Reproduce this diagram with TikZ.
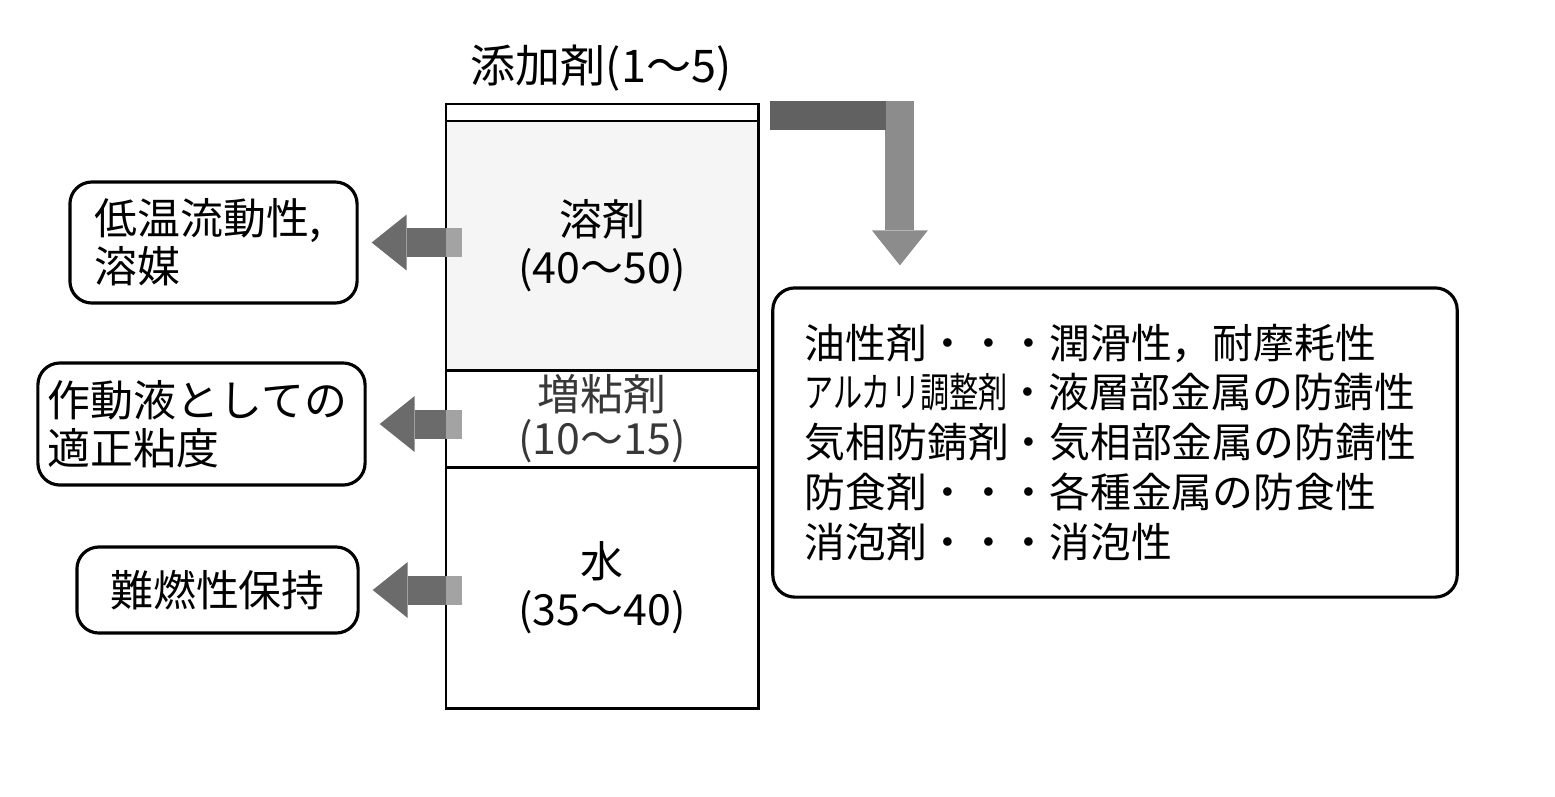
\documentclass[tikz,border=0pt]{standalone}
\usepackage{fontspec}
\setmainfont{Noto Sans CJK JP}
\usepackage{graphicx}
\usetikzlibrary{positioning, arrows.meta}
\newcommand\jpbig{\fontsize{12.2pt}{13.6pt}\selectfont}
\newcommand\jptight{\fontsize{12.2pt}{12.5pt}\selectfont\lineskiplimit=-20pt\lineskip=0pt}
\newcommand\jpsmall{\fontsize{11.6pt}{14.2pt}\selectfont}
\tikzset{
	section/.style={draw=black, line width=.8pt, minimum width=3.12cm, inner sep=0pt, outer sep=0pt, align=center, font=\jpbig},
	note/.style={draw=black, line width=.9pt, rounded corners=.22cm, inner xsep=.25cm, inner ysep=0pt, align=left, font=\jpbig},
	fatarrow/.style={line width=.29cm, draw=black!58, -{Triangle[length=.35cm, width=.56cm, line width=0pt]}, shorten >=.13cm},
	stub/.style={line width=.29cm, draw=black!36}
}

\begin{document}
\begin{tikzpicture}[x=0.01cm, y=-0.01cm]
\useasboundingbox (0,0) rectangle (1555,796);
% column of components
\node[section, minimum height=.17cm] (add) at (602,112.5) {};
\node[section, minimum height=2.49cm, fill=black!4] (solv) [below=0pt of add] {溶剤\\(40～50)};
\node[section, minimum height=.97cm, text=black!78, font=\jptight] (thick) [below=0pt of solv] {増粘剤\\(10～15)};
\node[section, minimum height=2.41cm] (water) [below=0pt of thick] {水\\(35～40)};
\node[font=\fontsize{12.8pt}{14pt}\selectfont] (addlabel) at (601,68) {添加剤(1～5)};

% what each part does
\node[note, text width=2.37cm, minimum height=1.21cm] (lowtemp) at (213.5,242.5) {低温流動性,\\溶媒};
\node[note, inner xsep=.1cm, text width=3.07cm, minimum height=1.22cm] (viscos) at (201.5,424) {作動液としての\\適正粘度};
\node[note, align=center, inner xsep=.2cm, text width=2.41cm, minimum height=.86cm] (flame) at (217.5,590) {難燃性保持};
\node[note, font=\jpsmall, inner xsep=.32cm, text width=6.2cm, minimum height=3.09cm] (effects) at (1115,442.5)
  {油性剤・・・潤滑性，耐摩耗性\\
   \scalebox{.714}[1]{アルカリ調整剤}・液層部金属の防錆性\\
   気相防錆剤・気相部金属の防錆性\\
   防食剤・・・各種金属の防食性\\
   消泡剤・・・消泡性};

% block arrows
\draw[fatarrow] ([xshift=.16cm]lowtemp.east -| solv.west) -- (lowtemp.east);
\draw[fatarrow] ([xshift=.16cm]viscos.east -| thick.west) -- (viscos.east);
\draw[fatarrow] ([xshift=.16cm]flame.east -| water.west) -- (flame.east);
\draw[stub] (lowtemp.east -| solv.west) -- ([xshift=.16cm]lowtemp.east -| solv.west);
\draw[stub] (viscos.east -| thick.west) -- ([xshift=.16cm]viscos.east -| thick.west);
\draw[stub] (flame.east -| water.west) -- ([xshift=.16cm]flame.east -| water.west);

\draw[fatarrow, draw=black!45, shorten >=.21cm, line join=miter] ([xshift=.12cm, yshift=-.03cm]add.east) -| ([xshift=-2.15cm]effects.north);
\draw[stub, draw=black!62] ([xshift=.12cm, yshift=-.03cm]add.east) -- ([xshift=1.275cm, yshift=-.03cm]add.east);
\end{tikzpicture}
\end{document}
